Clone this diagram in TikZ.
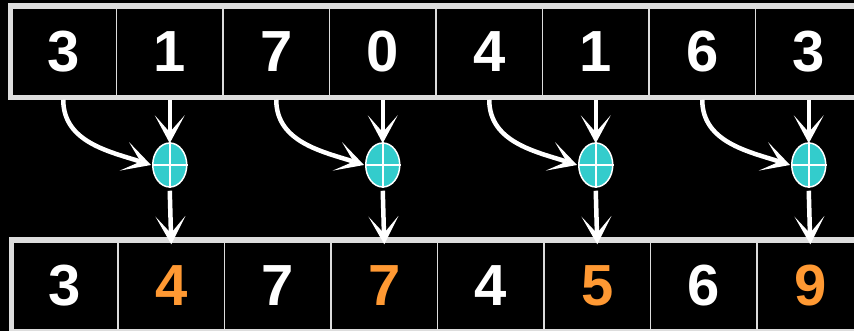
\documentclass[tikz,border=0pt]{standalone}
\usepackage{fontspec}
\setmainfont{Liberation Sans}
\usetikzlibrary{arrows.meta,shapes.geometric}
\definecolor{framegray}{HTML}{DDDDDD}
\definecolor{sumcyan}{HTML}{33CCCC}
\definecolor{hiorange}{HTML}{FF9933}
\tikzset{
  cell/.style={draw=framegray, line width=1.5pt, minimum width=106.5pt, minimum height=88pt,
    inner sep=0pt, font=\fontsize{58}{58}\selectfont\bfseries, text=white},
  hi/.style={text=hiorange},
  adder/.style={ellipse, draw=white, line width=1.5pt, fill=sumcyan,
    minimum width=34pt, minimum height=44pt, inner sep=0pt},
  feedarrow/.style={draw=white, line width=4.5pt,
    -{Stealth[length=28pt, width=30pt, inset=17pt, line width=0pt]}},
  rowframe/.style={draw=framegray, line width=4.5pt}}
\begin{document}
\begin{tikzpicture}[x=1pt,y=-1pt]
  % black page
  \fill[black] (0,0) rectangle (854,331);
  \useasboundingbox (0,0) rectangle (854,331);

  % input row
  \foreach \v [count=\i] in {3,1,7,0,4,1,6,3}
    \node[cell] (t\i) at ({10+106.5*(\i-0.5)},52) {\v};
  \draw[rowframe] (10.5,5.5) rectangle (875,97.5);

  % output row
  \foreach \v/\s [count=\i] in {3/,4/hi,7/,7/hi,4/,5/hi,6/,9/hi}
    \node[cell,\s] (b\i) at ({11.5+106.5*(\i-0.5)},286) {\v};
  \draw[rowframe] (11.5,239.5) rectangle (875,331);

  % pairwise adders
  \foreach \k in {1,2,3,4} {
    \pgfmathtruncatemacro{\R}{2*\k}
    \node[adder] (e\k) at ({10+106.5*(\R-0.5)},165) {};
    \draw[white, line width=1.5pt] (e\k.north) -- (e\k.south) (e\k.west) -- (e\k.east);
  }
  % connectors into and out of each adder
  \foreach \k in {1,2,3,4} {
    \pgfmathtruncatemacro{\L}{2*\k-1}
    \pgfmathtruncatemacro{\R}{2*\k}
    \draw[feedarrow] (t\R.south) ++(0,3) -- ([yshift=-1pt]e\k.north);
    \draw[feedarrow] (t\L.south) ++(0,3) to[out=-90, in=162] ([xshift=-1pt]e\k.west);
    \draw[feedarrow] (e\k.south) ++(0,3) -- ([yshift=-3pt]b\R.north);
  }
\end{tikzpicture}
\end{document}
